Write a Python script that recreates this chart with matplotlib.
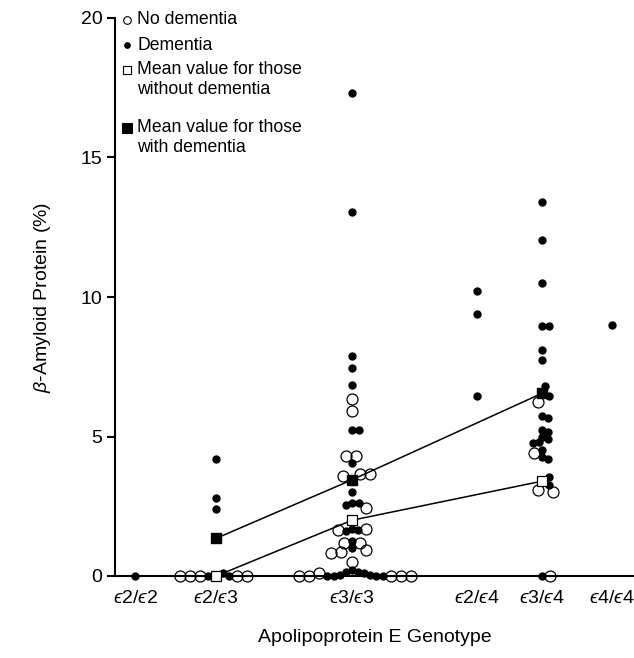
import numpy as np
import matplotlib
matplotlib.use("Agg")
import matplotlib.pyplot as plt

plt.rcParams["font.family"] = ["Liberation Sans", "DejaVu Sans"]
plt.rcParams["mathtext.fontset"] = "custom"
plt.rcParams["mathtext.rm"] = "Liberation Sans"
plt.rcParams["mathtext.it"] = "Liberation Sans:italic"

# genotype categories (x labels), lunate epsilon
eps = "$\u03f5$"
genotypes = [eps + "2/" + eps + "2", eps + "2/" + eps + "3", eps + "3/" + eps + "3",
             eps + "2/" + eps + "4", eps + "3/" + eps + "4", eps + "4/" + eps + "4"]
# category positions on a 0-100 axis (the original spacing is uneven)
genotype_x = [3.9, 19.5, 45.7, 69.7, 82.3, 95.8]

# beta-amyloid protein (%) per subject, one list per genotype
no_dementia = [
    [],
    [0, 0, 0, 0, 0],
    [6.35, 5.9, 4.3, 4.3, 3.65, 3.6, 3.65, 2.45, 1.7, 1.65, 1.2, 1.2,
     0.92, 0.87, 0.82, 0.5, 0.12, 0, 0, 0, 0, 0],
    [],
    [6.25, 4.4, 3.1, 3.0, 0],
    [],
]
dementia = [
    [0],
    [4.2, 2.8, 2.4, 0.12, 0, 0],
    [17.3, 13.05, 7.9, 7.45, 6.85, 5.25, 5.25, 4.05, 3.0, 2.6, 2.6, 2.55,
     1.7, 1.65, 1.6, 1.25, 1.0, 0.2, 0.15, 0.15, 0.1, 0.05, 0.05, 0, 0, 0, 0],
    [10.2, 9.4, 6.45],
    [13.4, 12.05, 10.5, 8.95, 8.95, 8.1, 7.75, 6.8, 6.45, 5.75, 5.65, 5.25,
     5.15, 5.0, 4.9, 4.8, 4.75, 4.5, 4.25, 4.2, 3.55, 3.25, 0],
    [9.0],
]

# group means, shown for three genotypes
mean_idx = [1, 2, 4]
mean_no_dementia = [0.0, 2.0, 3.4]
mean_dementia = [1.35, 3.45, 6.55]

fig = plt.figure(figsize=(6.34, 6.58), dpi=100)
ax = fig.add_axes([115 / 634, 1 - 576 / 658, 519 / 634, 558 / 658])
ax.set_xlim(0, 100)
ax.set_ylim(0, 20)

# marker sizes (points) and collision radii (pixels)
ms_open, ms_fill, ms_sq = 7.9, 5.0, 7.2
r_open, r_fill, r_sq = 5.5, 3.5, 5.0


def swarm(xc, values, radius, placed):
    """place points beside each other so they do not overlap much"""
    xs = []
    for v in values:
        x0, y0 = ax.transData.transform((xc, v))
        best = x0
        for step in range(0, 300):
            cands = [0] if step == 0 else [step, -step]
            found = False
            for dx in cands:
                ok = all((x0 + dx - px) ** 2 + (y0 - py) ** 2 >= (0.88 * (radius + pr)) ** 2
                         for px, py, pr in placed)
                if ok:
                    best = x0 + dx
                    found = True
                    break
            if found:
                break
        placed.append((best, y0, radius))
        xs.append(ax.transData.inverted().transform((best, y0))[0])
    return xs


for i, xc in enumerate(genotype_x):
    placed = []
    if i in mean_idx:
        k = mean_idx.index(i)
        for m in (mean_no_dementia[k], mean_dementia[k]):
            px, py = ax.transData.transform((xc, m))
            placed.append((px, py, r_sq))
    xd = swarm(xc, dementia[i], r_fill, placed)
    xo = swarm(xc, no_dementia[i], r_open, placed)
    ax.plot(xo, no_dementia[i], "o", ms=ms_open, mfc="none", mec="k", mew=0.9,
            ls="none", clip_on=False, zorder=3)
    ax.plot(xd, dementia[i], "o", ms=ms_fill, color="k", ls="none",
            clip_on=False, zorder=4)

mean_x = [genotype_x[i] for i in mean_idx]
ax.plot(mean_x, mean_no_dementia, "-", color="k", lw=1.1, zorder=2)
ax.plot(mean_x, mean_dementia, "-", color="k", lw=1.1, zorder=2)
ax.plot(mean_x, mean_no_dementia, "s", ms=ms_sq, mfc="white", mec="k", mew=0.9,
        ls="none", clip_on=False, zorder=5)
ax.plot(mean_x, mean_dementia, "s", ms=ms_sq, color="k", ls="none",
        clip_on=False, zorder=5)

# legend drawn by hand so the marker sits on the first text line
leg_rows = [
    ("o", "none", 5.5, ["No dementia"]),
    ("o", "k", 4.0, ["Dementia"]),
    ("s", "white", 5.5, ["Mean value for those", "without dementia"]),
    ("s", "k", 6.5, ["Mean value for those", "with dementia"]),
]
leg_y = [20, 45, 70, 128]
for (mk, fc, size, lines), yp in zip(leg_rows, leg_y):
    y0 = (576 - yp) / 558
    ax.plot([0.023], [y0], mk, ms=size, mfc=fc, mec="k", mew=0.8,
            transform=ax.transAxes, clip_on=False)
    for j, line in enumerate(lines):
        ax.text(0.043, y0 - j * 20 / 558, line, transform=ax.transAxes,
                fontsize=12.7, va="center", ha="left")

for side in ("top", "right"):
    ax.spines[side].set_visible(False)
ax.spines["left"].set_linewidth(1.5)
ax.spines["bottom"].set_linewidth(1.5)

ax.set_xticks(genotype_x)
ax.set_xticklabels(genotypes)
ax.set_yticks([0, 5, 10, 15, 20])
ax.tick_params(axis="x", length=0, pad=10, labelsize=14)
ax.tick_params(axis="y", length=6, width=1.5, labelsize=14, pad=3)
ax.set_xlabel("Apolipoprotein E Genotype", fontsize=14, labelpad=16)
ax.set_ylabel(r"$\beta$-Amyloid Protein (%)", fontsize=14, labelpad=20)

fig.savefig("out.png", dpi=100)
